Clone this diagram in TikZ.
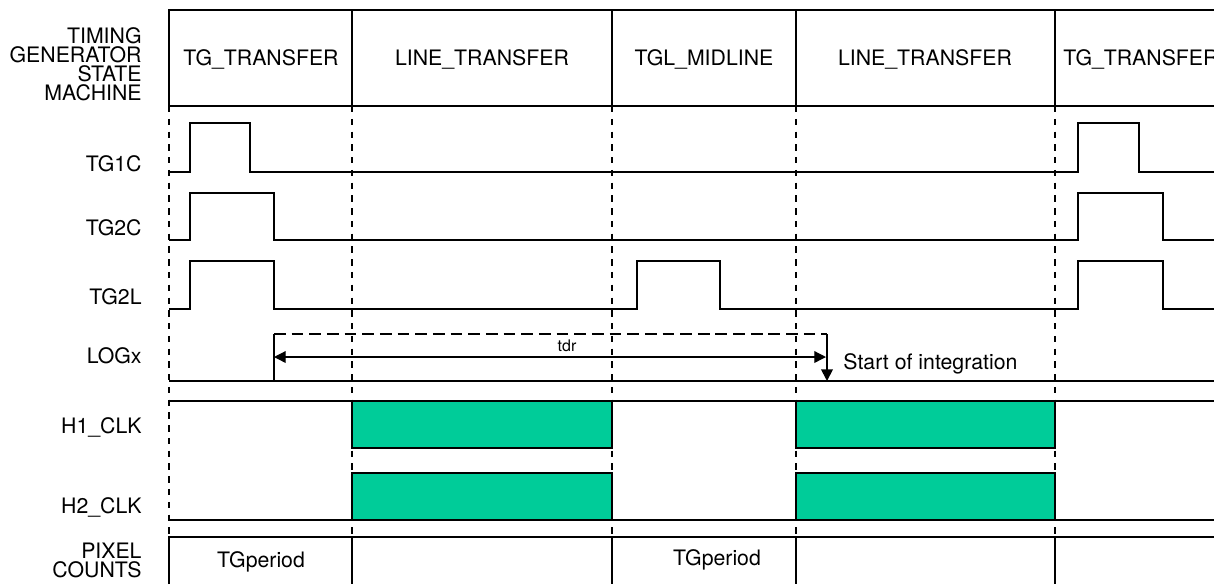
\documentclass[tikz,border=0pt]{standalone}
\usepackage{fontspec}
\setmainfont{TeX Gyre Heros}
\usetikzlibrary{arrows.meta}
\definecolor{clkgreen}{RGB}{0,204,153}

\begin{document}
\begin{tikzpicture}[x=0.47pt, y=-0.47pt,
                    >={Triangle[length=5.5pt,width=5.5pt]},
                    lbl/.style={anchor=east, inner sep=0pt, align=right,
                                font=\fontsize{10}{8.9}\selectfont},
                    state/.style={inner sep=0pt, font=\fontsize{10}{12}\selectfont},
                    box/.style={line width=1.1pt},
                    sig/.style={line width=0.8pt},
                    thin/.style={line width=0.6pt},
                    grid/.style={line width=0.8pt, dash pattern=on 3pt off 3pt},
                    clk/.style={draw, fill=clkgreen, line width=1.1pt}]
    \useasboundingbox (0,0) rectangle (1214,584);

    % row labels
    \node[lbl] (lsm) at (142,64) {TIMING\\GENERATOR\\STATE\\MACHINE};
    \node[lbl] (ltg1c) at (142,164) {TG1C};
    \node[lbl] (ltg2c) at (142,228) {TG2C};
    \node[lbl] (ltg2l) at (142,297) {TG2L};
    \node[lbl] (llog) at (142,356) {LOGx};
    \node[lbl] (lh1) at (142,427) {H1\_CLK};
    \node[lbl] (lh2) at (142,507) {H2\_CLK};
    \node[lbl] (lpix) at (142,560) {PIXEL\\COUNTS};

    % dashed state borders
    \foreach \x in {169,352,612,796,1055}
        \draw[grid] (\x,106) -- (\x,537);

    % state machine row
    \draw[box] (1214,10) -- (169,10) -- (169,106) -- (1214,106);
    \foreach \x in {352,612,796,1055}
        \draw[box] (\x,10) -- (\x,106);
    \node[state] (s1) at (261,59) {TG\_TRANSFER};
    \node[state] (s2) at (482,59) {LINE\_TRANSFER};
    \node[state] (s3) at (704,59) {TGL\_MIDLINE};
    \node[state] (s4) at (925,59) {LINE\_TRANSFER};
    \node[state, anchor=west] (s5) at (1063,59) {TG\_TRANSFER};

    % transfer gates
    \draw[sig] (169,172) -- (190,172) -- (190,123) -- (250,123) -- (250,172)
        -- (1078,172) -- (1078,123) -- (1139,123) -- (1139,172) -- (1214,172);
    \draw[sig] (169,240) -- (190,240) -- (190,193) -- (274,193) -- (274,240)
        -- (1078,240) -- (1078,193) -- (1163,193) -- (1163,240) -- (1214,240);
    \draw[sig] (169,309) -- (190,309) -- (190,261) -- (274,261) -- (274,309)
        -- (637,309) -- (637,261) -- (720,261) -- (720,309)
        -- (1078,309) -- (1078,261) -- (1163,261) -- (1163,309) -- (1214,309);

    % LOGx
    \coordinate (rise) at (274,381);
    \coordinate (riseTop) at (274,334);
    \coordinate (soiTop) at (827,334);
    \coordinate (soi) at (827,381);
    \coordinate (tdrL) at (274,357);
    \coordinate (tdrR) at (826,357);
    \draw[thin] (169,381) -- (1214,381);
    \draw[sig] (rise) -- (riseTop);
    \draw[sig, dash pattern=on 5.5pt off 2.8pt] (riseTop) -- (soiTop);
    \draw[sig, ->] (soiTop) -- (soi);
    \draw[thin, <->] (tdrL) -- (tdrR);
    \node[inner sep=0pt, font=\fontsize{7.5}{9}\selectfont] (tdr) at (567,346) {tdr};
    \node[state, anchor=west] (soitxt) at (843,364) {Start of integration};

    % horizontal clocks
    \draw[box] (169,401) -- (1214,401);
    \draw[thin] (169,520) -- (1214,520);
    \foreach \a/\b in {352/612,796/1055} {
        \draw[clk] (\a,401) rectangle (\b,448);
        \draw[clk] (\a,473) rectangle (\b,520);
    }

    % pixel counts row
    \draw[box] (169,584) -- (169,537) -- (1214,537);
    \foreach \x in {352,612,796,1055}
        \draw[box] (\x,537) -- (\x,584);
    \node[state] (p1) at (261,562) {TGperiod};
    \node[state] (p2) at (717,560) {TGperiod};
\end{tikzpicture}
\end{document}
